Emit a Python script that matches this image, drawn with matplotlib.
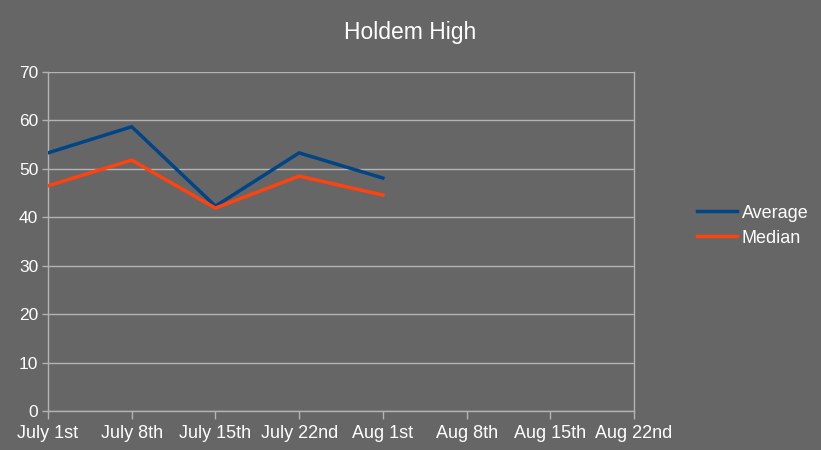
import matplotlib
matplotlib.use('Agg')
import matplotlib.pyplot as plt

plt.rcParams['font.family'] = ['Liberation Sans', 'DejaVu Sans']

dates = ['July 1st', 'July 8th', 'July 15th', 'July 22nd', 'Aug 1st',
         'Aug 8th', 'Aug 15th', 'Aug 22nd']
average = [53.3, 58.7, 42.3, 53.3, 48.1]
median = [46.5, 51.8, 41.9, 48.5, 44.6]

bg = '#666666'
txt = '#ffffff'
grid = '#b3b3b3'

fig = plt.figure(figsize=(8.21, 4.5), dpi=100, facecolor=bg)
ax = fig.add_axes([48 / 821, 39 / 450, 586 / 821, 339 / 450], facecolor=bg)

x = list(range(len(dates)))
ax.plot(x[:len(average)], average, color='#004586', lw=2.5, label='Average',
        solid_joinstyle='miter', zorder=3)
ax.plot(x[:len(median)], median, color='#ff420e', lw=2.5, label='Median',
        solid_joinstyle='miter', zorder=3)

ax.set_xlim(0, len(dates) - 1)
ax.set_ylim(0, 70)
ax.set_yticks(range(0, 71, 10))
ax.set_xticks(x)
ax.set_xticklabels(dates)
ax.yaxis.grid(True, color=grid, lw=1)
ax.set_axisbelow(True)

for side in ['top', 'left', 'right', 'bottom']:
    ax.spines[side].set_color(grid)
    ax.spines[side].set_linewidth(1)
ax.spines['top'].set_visible(False)

ax.tick_params(axis='x', colors=grid, labelcolor=txt, labelsize=13,
               length=6, width=1, pad=4)
ax.tick_params(axis='y', colors=grid, labelcolor=txt, labelsize=12.5,
               length=4, width=1, pad=3)

fig.text(0.5, 1 - 33 / 450, 'Holdem High', color=txt, fontsize=16.5,
         ha='center', va='center')

leg = ax.legend(loc='center left', bbox_to_anchor=(1.079, 0.547), frameon=False,
                fontsize=13, handlelength=2.25, handletextpad=0.25,
                labelspacing=0.45)
for t in leg.get_texts():
    t.set_color(txt)

fig.savefig('out.png', dpi=100, facecolor=bg)
